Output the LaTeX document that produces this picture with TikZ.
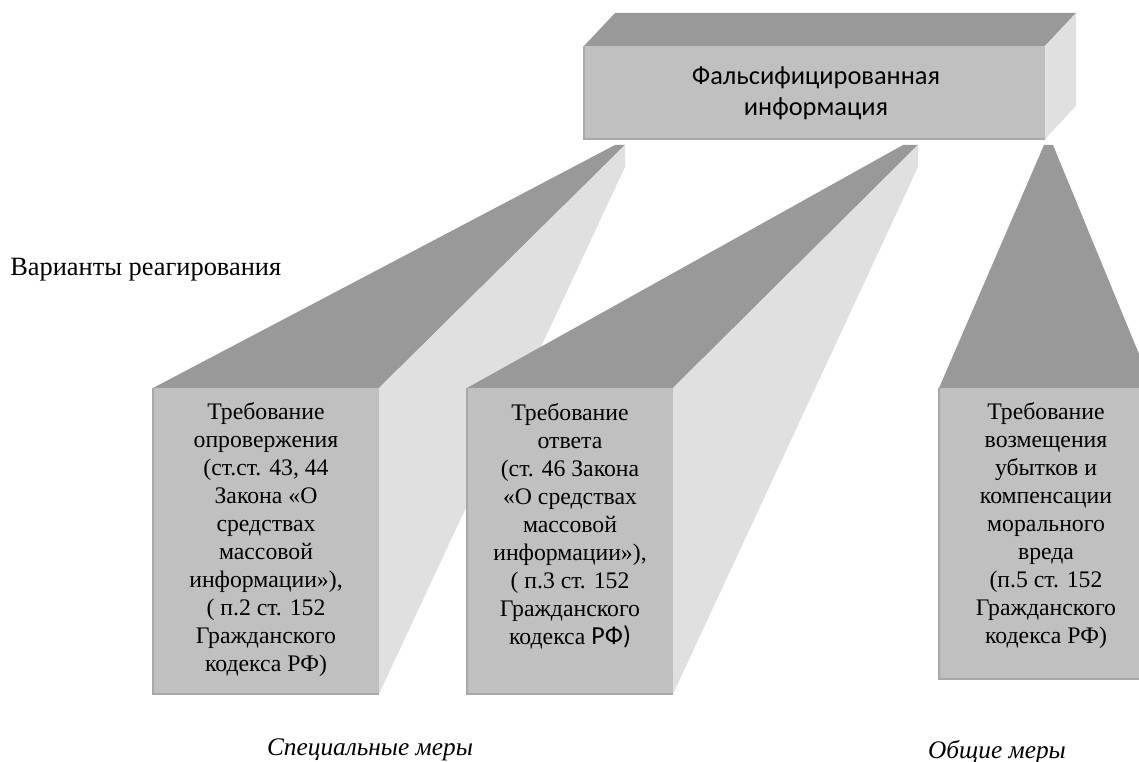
\documentclass[tikz,border=0pt]{standalone}
\usepackage{fontspec}
\setmainfont{Liberation Serif}
\newfontfamily\calibri{Carlito}
\definecolor{topc}{HTML}{999999}
\definecolor{frontc}{HTML}{C0C0C0}
\definecolor{sidec}{HTML}{E0E0E0}
\definecolor{edgec}{HTML}{A8A8A8}
\begin{document}
\begin{tikzpicture}[x=0.75pt,y=-0.75pt,
  topface/.style={fill=topc},
  sideface/.style={fill=sidec},
  frontface/.style={fill=frontc},
  frontedge/.style={draw=edgec,line width=1.3pt},
  boxtext/.style={align=center,inner sep=0pt,font=\fontsize{17.8}{21}\selectfont},
  measure/.style={inner sep=0pt,font=\fontsize{19}{23}\selectfont\itshape}]
\useasboundingbox (0,0) rectangle (1139,762);
\begin{scope}
\clip (0,0) rectangle (1139,762);
% beam 1
\fill[topface] (153,388) -- (379,388) -- (625,145) -- (615,145) -- cycle;
\fill[sideface] (379,388) -- (625,145) -- (625,167) -- (379,694) -- cycle;
% beam 2
\fill[topface] (467,388) -- (673,388) -- (918,145) -- (903,145) -- cycle;
\fill[sideface] (673,388) -- (918,145) -- (918,167) -- (673,694) -- cycle;
% beam 3
\fill[topface] (939,388) -- (1153,388) -- (1053,145) -- (1044,145) -- cycle;
% front faces
\fill[frontface] (153,388) rectangle (379,694);
\draw[frontedge] (153,388) -- (153,694) -- (379,694);
\fill[frontface] (467,388) rectangle (673,694);
\draw[frontedge] (467,388) -- (467,694) -- (673,694);
\fill[frontface] (939,388) rectangle (1153,679);
\draw[frontedge] (939,388) -- (939,679) -- (1153,679);
% top box
\fill[topface] (584,46) -- (1045,46) -- (1076,13) -- (615,13) -- cycle;
\fill[sideface] (1045,46) -- (1076,13) -- (1076,106) -- (1045,139) -- cycle;
\fill[frontface] (584,46) rectangle (1045,139);
\draw[frontedge] (584,46) -- (584,139) -- (1045,139);
\end{scope}
\node[font=\calibri\fontsize{19.8}{23.25}\selectfont, align=center, inner sep=0pt] (ttop) at (816,93) {Фальсифицированная\\информация};
\node[boxtext] (t1) at (266,540) {Требование\\опровержения\\(ст.ст. 43, 44\\Закона «О\\средствах\\массовой\\информации»),\\( п.2 ст. 152\\Гражданского\\кодекса РФ)};
\node[boxtext] (t2) at (570,526) {Требование\\ответа\\(ст. 46 Закона\\«О средствах\\массовой\\информации»),\\( п.3 ст. 152\\Гражданского\\кодекса {\calibri\fontsize{19.5}{21}\selectfont РФ)}};
\node[boxtext] (t3) at (1046,526) {Требование\\возмещения\\убытков и\\компенсации\\морального\\вреда\\(п.5 ст. 152\\Гражданского\\кодекса РФ)};
\node[anchor=west, font=\fontsize{19.8}{23}\selectfont, inner sep=0pt] (var) at (10,270) {Варианты реагирования};
\node[measure] (spec) at (370,750) {Специальные меры};
\node[measure] (gen) at (997,752) {Общие меры};
\end{tikzpicture}
\end{document}
